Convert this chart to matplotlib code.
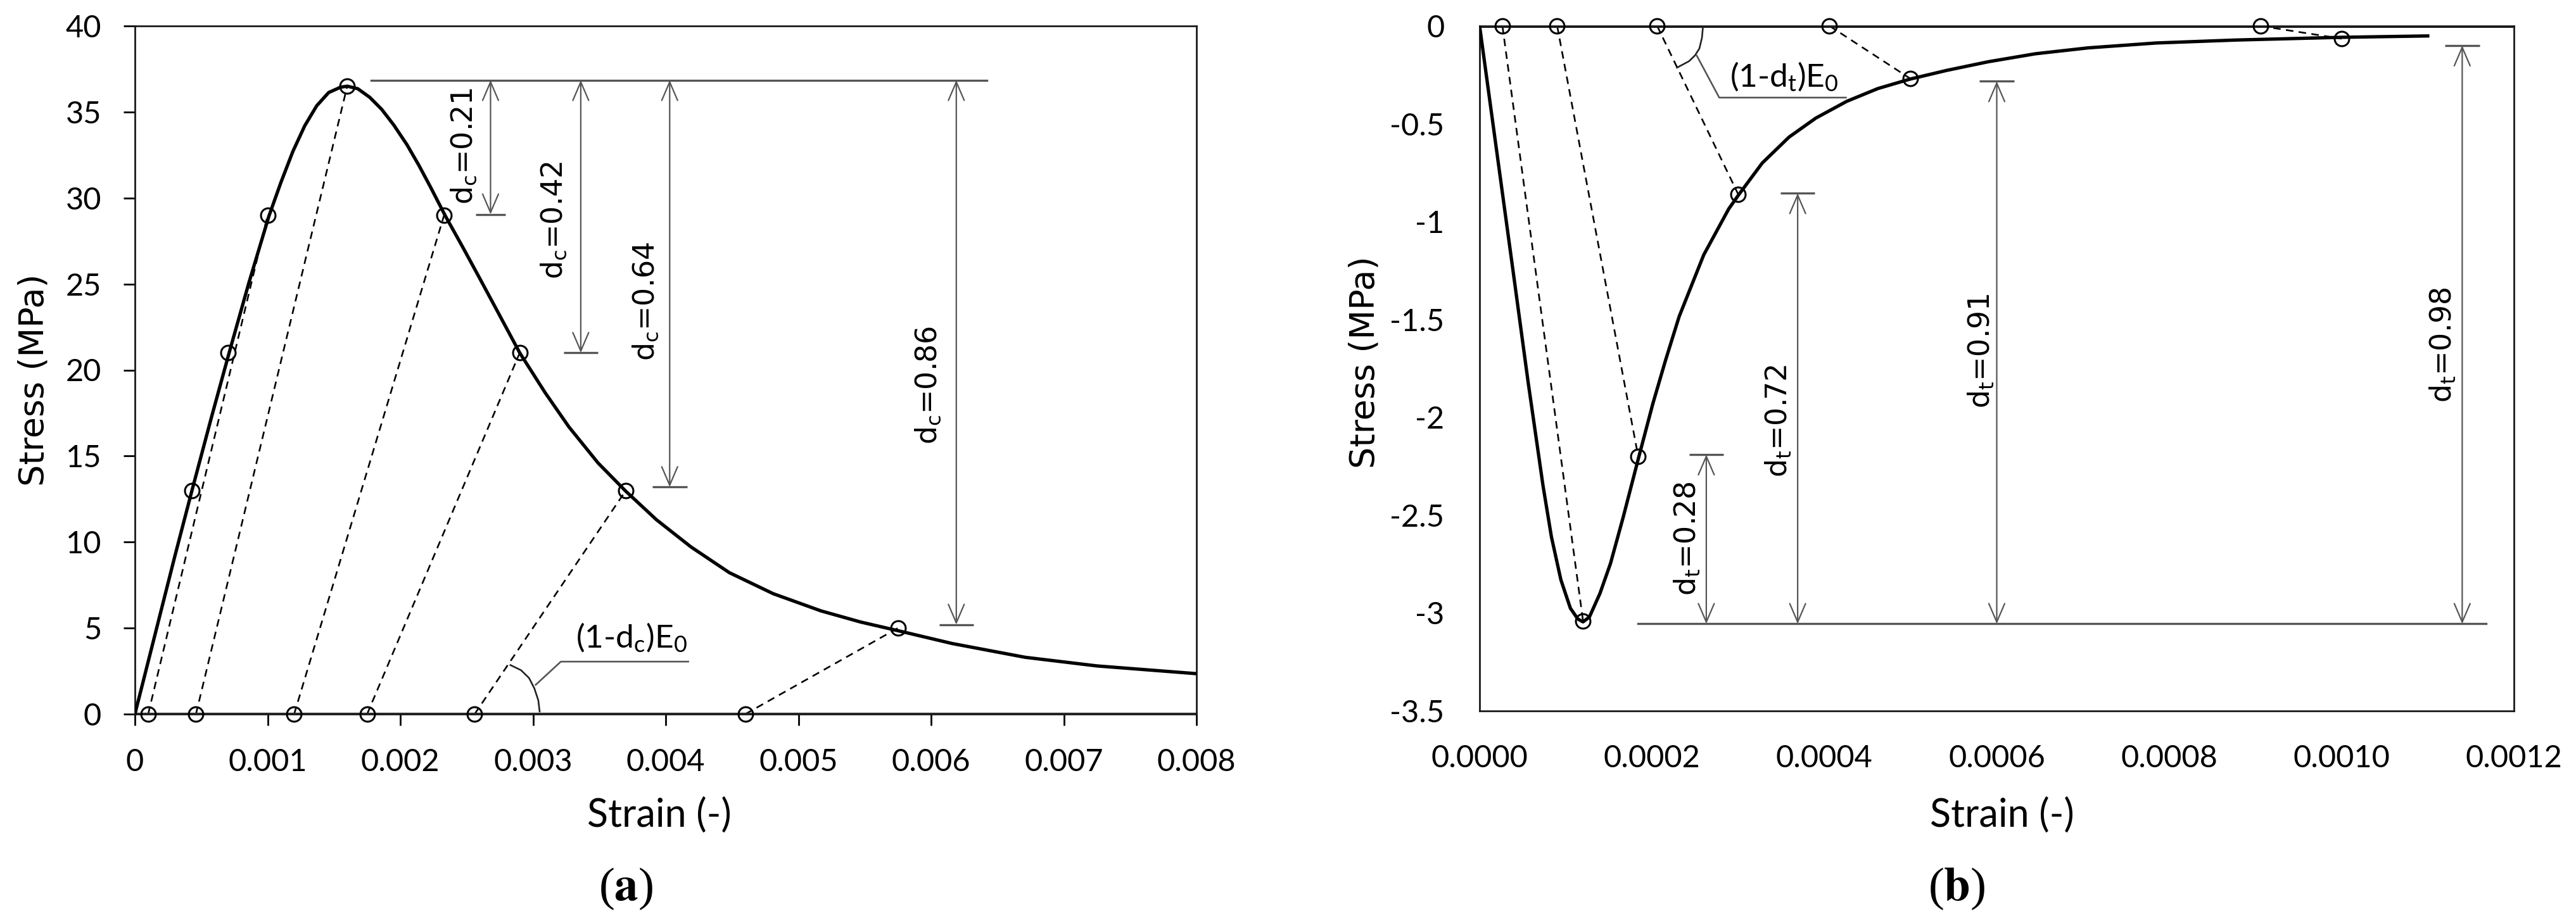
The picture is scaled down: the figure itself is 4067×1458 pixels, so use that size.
import matplotlib
matplotlib.use('Agg')
import matplotlib.pyplot as plt

W, H = 4067, 1458
GREY = '#555555'

# panel (a), compression
strain_a = [0, 0.0001, 0.0002, 0.0003, 0.00043, 0.000575, 0.00071, 0.00086, 0.00101, 0.0011, 0.00119, 0.00128,
            0.00137, 0.00146, 0.00155, 0.0016, 0.00168, 0.00177, 0.00186, 0.00195, 0.00205, 0.00214, 0.00223,
            0.00234, 0.00247, 0.00259, 0.00274, 0.0029, 0.00309, 0.00327, 0.00349, 0.0037, 0.00393, 0.00419,
            0.00448, 0.00481, 0.00517, 0.00547, 0.00575, 0.00616, 0.00671, 0.00725, 0.008]
stress_a = [0, 3.05, 6.1, 9.15, 13.0, 17.2, 21.0, 25.1, 28.95, 30.9, 32.7, 34.2,
            35.36, 36.13, 36.44, 36.5, 36.35, 35.85, 35.15, 34.25, 33.1, 31.9, 30.6,
            28.95, 27.15, 25.45, 23.3, 21.0, 18.7, 16.7, 14.6, 12.95, 11.3, 9.72,
            8.22, 7.0, 6.0, 5.35, 4.85, 4.1, 3.3, 2.8, 2.35]
curve_pts_xa = [0.00043, 0.0007, 0.001, 0.0016, 0.00233, 0.0029, 0.0037, 0.00575]
curve_pts_ya = [13, 21, 29, 36.5, 29, 21, 13, 5]
base_xa = [0.0001, 0.00046, 0.0012, 0.00175, 0.00256, 0.0046]
unload_xa = [0.001, 0.0016, 0.00233, 0.0029, 0.0037, 0.00575]
unload_ya = [29, 36.5, 29, 21, 13, 5]
dim_xa = [0.00268, 0.00336, 0.00403, 0.00619]
dim_ya = [29.05, 21.0, 13.2, 5.2]
cap_half_a = [0.00011, 0.00013, 0.00013, 0.00013]
labels_a = ['0.21', '0.42', '0.64', '0.86']
label_xa = [0.00248, 0.00316, 0.00385, 0.00598]
label_ya = [33.0, 28.7, 24.0, 19.1]
arc_xa = [0.00305, 0.00304, 0.00301, 0.00297, 0.00291, 0.00283]
arc_ya = [0.15, 0.8, 1.5, 2.1, 2.55, 2.85]
lead_xa = [0.00302, 0.00321, 0.00417]
lead_ya = [1.7, 3.05, 3.05]
xticks_a = [0, 0.001, 0.002, 0.003, 0.004, 0.005, 0.006, 0.007, 0.008]
xlabels_a = ['0', '0.001', '0.002', '0.003', '0.004', '0.005', '0.006', '0.007', '0.008']
yticks_a = [0, 5, 10, 15, 20, 25, 30, 35, 40]

# panel (b), tension
strain_b = [0, 0.00002, 0.00004, 0.000046, 0.0000563, 0.0000661, 0.0000735, 0.0000833, 0.0000943, 0.0001053,
            0.0001139, 0.00012, 0.0001274, 0.0001396, 0.0001519, 0.0001666, 0.000185, 0.000201, 0.0002156,
            0.0002315, 0.00026, 0.000289, 0.000301, 0.000328, 0.000359, 0.00039, 0.000426, 0.000462, 0.000499,
            0.000542, 0.00059, 0.000645, 0.000706, 0.000785, 0.000877, 0.001, 0.0011]
stress_b = [0, -0.645, -1.29, -1.485, -1.82, -2.12, -2.347, -2.61, -2.83, -2.975,
            -3.03, -3.045, -3.02, -2.9, -2.746, -2.51, -2.197, -1.93, -1.71,
            -1.485, -1.17, -0.935, -0.86, -0.7, -0.568, -0.471, -0.385, -0.32, -0.272,
            -0.227, -0.183, -0.142, -0.112, -0.087, -0.072, -0.058, -0.051]
curve_pts_xb = [0.00012, 0.000184, 0.0003, 0.0005, 0.001]
curve_pts_yb = [-3.04, -2.2, -0.86, -0.27, -0.065]
base_xb = [0.0000265, 0.00009, 0.000206, 0.000406, 0.000906]
dim_xb = [0.000263, 0.000369, 0.0006, 0.00114]
dim_yb = [-2.19, -0.855, -0.283, -0.1]
labels_b = ['0.28', '0.72', '0.91', '0.98']
label_xb = [0.000241, 0.000347, 0.000582, 0.001118]
label_yb = [-2.62, -2.02, -1.66, -1.63]
arc_xb = [0.000259, 0.000258, 0.000255, 0.00025, 0.000243, 0.000229]
arc_yb = [-0.01, -0.06, -0.115, -0.15, -0.18, -0.213]
lead_xb = [0.000252, 0.000278, 0.000425]
lead_yb = [-0.152, -0.366, -0.366]
xticks_b = [0, 0.0002, 0.0004, 0.0006, 0.0008, 0.001, 0.0012]
xlabels_b = ['0.0000', '0.0002', '0.0004', '0.0006', '0.0008', '0.0010', '0.0012']
yticks_b = [0, -0.5, -1, -1.5, -2, -2.5, -3, -3.5]
ylabels_b = ['0', '-0.5', '-1', '-1.5', '-2', '-2.5', '-3', '-3.5']


def make_axes(fig, left, right, top, bottom):
    return fig.add_axes([left / W, 1 - bottom / H, (right - left) / W, (bottom - top) / H])


def dim_arrow(ax, x, y0, y1, cap_half):
    ax.annotate('', xy=(x, y1), xytext=(x, y0), annotation_clip=False,
                arrowprops=dict(arrowstyle='<->,head_length=2.1,head_width=0.9', mutation_scale=10,
                                color=GREY, lw=1.6, shrinkA=0, shrinkB=0))
    ax.plot([x - cap_half, x + cap_half], [y1, y1], color=GREY, lw=2.4, solid_capstyle='butt')


def style_axes(ax, tick_len, pad_x, pad_y):
    for s in ax.spines.values():
        s.set_linewidth(2.0)
        s.set_color('#1a1a1a')
    ax.tick_params(length=tick_len, width=2.0, labelsize=35)
    ax.tick_params(axis='x', pad=pad_x)
    ax.tick_params(axis='y', pad=pad_y)
    for t in ax.get_xticklabels() + ax.get_yticklabels():
        t.set_family('Lato')


fig = plt.figure(figsize=(W / 100, H / 100), dpi=100)
plt.rcParams['mathtext.default'] = 'regular'

# --- (a)
ax = make_axes(fig, 213, 1889, 41, 1128)
ax.set_xlim(0, 0.008)
ax.set_ylim(0, 40)
ax.set_xticks(xticks_a)
ax.set_xticklabels(xlabels_a)
ax.set_yticks(yticks_a)
style_axes(ax, 13, 26, 25)
ax.plot(strain_a, stress_a, color='black', lw=3.8, zorder=3, solid_joinstyle='round')
for x0, x1, y1 in zip(base_xa, unload_xa, unload_ya):
    ax.plot([x0, x1], [0, y1], color='black', lw=1.9, dashes=(4.5, 3.2))
ax.plot(curve_pts_xa, curve_pts_ya, 'o', mfc='none', mec='black', ms=16.5, mew=2.2, zorder=4)
ax.plot(base_xa, [0] * len(base_xa), 'o', mfc='none', mec='black', ms=16.5, mew=2.2, zorder=4, clip_on=False)
ax.axhline(0, color='#333333', lw=3.2, zorder=2)
ax.plot([0.00178, 0.00642], [36.85, 36.85], color=GREY, lw=2.4)
for x, y1, c, lab, lx, ly in zip(dim_xa, dim_ya, cap_half_a, labels_a, label_xa, label_ya):
    dim_arrow(ax, x, 36.85, y1, c)
    ax.text(lx, ly, 'd$_{c}$=' + lab, rotation=90, ha='center', va='center', fontsize=33, family='DejaVu Sans')
ax.plot(arc_xa, arc_ya, color='#222222', lw=1.9)
ax.plot(lead_xa, lead_ya, color=GREY, lw=1.9)
ax.text(0.00374, 4.45, '(1-d$_{c}$)E$_{0}$', ha='center', va='center', fontsize=37, family='Lato')

# --- (b)
ax = make_axes(fig, 2336, 3969, 41, 1123)
ax.set_xlim(0, 0.0012)
ax.set_ylim(-3.5, 0)
ax.set_xticks(xticks_b)
ax.set_xticklabels(xlabels_b)
ax.set_yticks(yticks_b)
ax.set_yticklabels(ylabels_b)
style_axes(ax, 0, 38, 40)
ax.plot(strain_b, stress_b, color='black', lw=3.8, zorder=3, solid_joinstyle='round')
for x0, x1, y1 in zip(base_xb, curve_pts_xb, curve_pts_yb):
    ax.plot([x0, x1], [0, y1], color='black', lw=1.9, dashes=(4.5, 3.2))
ax.plot(curve_pts_xb, curve_pts_yb, 'o', mfc='none', mec='black', ms=16.5, mew=2.2, zorder=4)
ax.plot(base_xb, [0] * len(base_xb), 'o', mfc='none', mec='black', ms=16.5, mew=2.2, zorder=4, clip_on=False)
ax.axhline(0, color='#1a1a1a', lw=3.6, zorder=2)
ax.plot([0.000184, 0.001168], [-3.055, -3.055], color=GREY, lw=2.4)
for x, y1, lab, lx, ly in zip(dim_xb, dim_yb, labels_b, label_xb, label_yb):
    dim_arrow(ax, x, -3.055, y1, 0.00002)
    ax.text(lx, ly, 'd$_{t}$=' + lab, rotation=90, ha='center', va='center', fontsize=33, family='DejaVu Sans')
ax.plot(arc_xb, arc_yb, color='#222222', lw=1.9)
ax.plot(lead_xb, lead_yb, color=GREY, lw=1.9)
ax.text(0.000353, -0.26, '(1-d$_{t}$)E$_{0}$', ha='center', va='center', fontsize=37, family='Lato')

# --- outer labels
fig.text(54 / W, 1 - 600 / H, 'Stress (MPa)', rotation=90, ha='center', va='center', fontsize=39, family='DejaVu Sans')
fig.text(2155 / W, 1 - 572 / H, 'Stress (MPa)', rotation=90, ha='center', va='center', fontsize=39, family='DejaVu Sans')
fig.text(1041 / W, 1 - 1288 / H, 'Strain (-)', ha='center', va='center', fontsize=44, family='Lato')
fig.text(3161 / W, 1 - 1288 / H, 'Strain (-)', ha='center', va='center', fontsize=44, family='Lato')
for x, letter in [(988, 'a'), (3089, 'b')]:
    fig.text(x / W, 1 - 1404 / H, '(' + r'$\mathbf{' + letter + '}$' + ')', ha='center', va='center', fontsize=54,
             family='Liberation Serif', math_fontfamily='stix')

fig.savefig('out.png', dpi=100, facecolor='white')
